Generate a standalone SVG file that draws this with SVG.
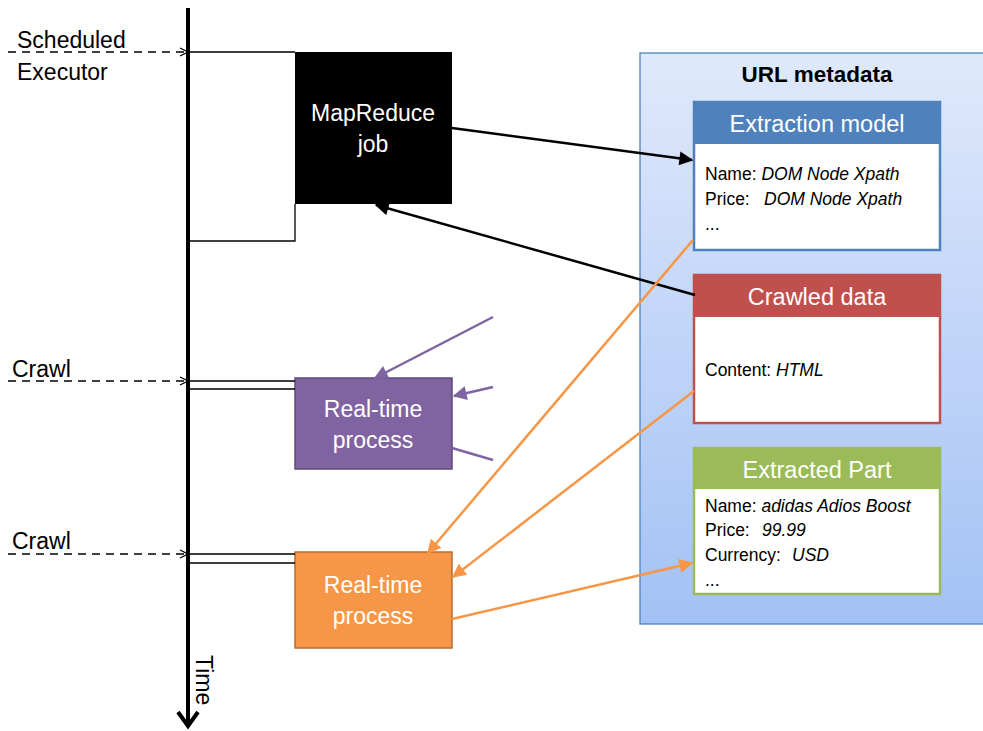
<svg xmlns="http://www.w3.org/2000/svg" width="983" height="731" viewBox="0 0 983 731">
  <defs>
    <linearGradient id="metaFill" x1="0" y1="0" x2="0" y2="1">
      <stop offset="0" stop-color="#dfe9fb"/>
      <stop offset="1" stop-color="#a3c1f5"/>
    </linearGradient>
    <marker id="openArrow" viewBox="0 0 10 10" refX="9" refY="5" markerWidth="10" markerHeight="10" markerUnits="userSpaceOnUse" orient="auto">
      <path d="M1,1 L9,5 L1,9" fill="none" stroke="#000" stroke-width="1.3"/>
    </marker>
    <marker id="blackHead" viewBox="0 0 10 10" refX="9" refY="5" markerWidth="16" markerHeight="14" markerUnits="userSpaceOnUse" orient="auto">
      <path d="M0,0 L10,5 L0,10 z" fill="#000"/>
    </marker>
    <marker id="purpleHead" viewBox="0 0 10 10" refX="9" refY="5" markerWidth="16" markerHeight="14" markerUnits="userSpaceOnUse" orient="auto">
      <path d="M0,0 L10,5 L0,10 z" fill="#8064a2"/>
    </marker>
    <marker id="orangeHead" viewBox="0 0 10 10" refX="9" refY="5" markerWidth="16" markerHeight="14" markerUnits="userSpaceOnUse" orient="auto">
      <path d="M0,0 L10,5 L0,10 z" fill="#f79646"/>
    </marker>
  </defs>
  <style>
    text { font-family: "Liberation Sans", Arial, sans-serif; }
    .lbl { font-size: 23px; fill: #000; }
    .boxlbl { font-size: 23px; fill: #fff; text-anchor: middle; }
    .hdr { font-size: 23.5px; fill: #fff; text-anchor: middle; }
    .body { font-size: 17.5px; fill: #000; }
    .it { font-style: italic; }
    .dash { stroke: #000; stroke-width: 1.3; stroke-dasharray: 8 6; fill: none; marker-end: url(#openArrow); }
    .thin { stroke: #000; stroke-width: 1.3; fill: none; }
  </style>
  <rect width="983" height="731" fill="#fff"/>

  <!-- time axis -->
  <g id="timeline">
    <line x1="188" y1="8" x2="188" y2="725" stroke="#000" stroke-width="4"/>
    <path d="M178,712 L188,726 L198,712" fill="none" stroke="#000" stroke-width="4"/>
    <text class="lbl" transform="translate(196,655) rotate(90)">Time</text>
  </g>

  <!-- triggers on the axis -->
  <g id="trigger-scheduled">
    <text class="lbl" x="17" y="48">Scheduled</text>
    <text class="lbl" x="17" y="80">Executor</text>
    <line class="dash" x1="8" y1="52" x2="188" y2="52"/>
  </g>
  <g id="trigger-crawl-1">
    <text class="lbl" x="12" y="377">Crawl</text>
    <line class="dash" x1="8" y1="381" x2="188" y2="381"/>
  </g>
  <g id="trigger-crawl-2">
    <text class="lbl" x="12" y="549">Crawl</text>
    <line class="dash" x1="8" y1="554" x2="188" y2="554"/>
  </g>

  <!-- URL metadata store -->
  <g id="url-metadata">
    <rect x="640" y="53" width="350" height="571" fill="url(#metaFill)" stroke="#4f81bd" stroke-width="1.3"/>
    <text x="817" y="82" font-size="22.5" font-weight="bold" text-anchor="middle">URL metadata</text>
  </g>

  <g id="extraction-model">
    <rect x="694" y="102" width="246" height="148" fill="#fff" stroke="#4f81bd" stroke-width="2.5"/>
    <rect x="694" y="102" width="246" height="42" fill="#4f81bd"/>
    <text class="hdr" x="817" y="132">Extraction model</text>
    <text class="body" x="705" y="180">Name: <tspan class="it">DOM Node Xpath</tspan></text>
    <text class="body" x="705" y="205">Price:   <tspan class="it" x="764">DOM Node Xpath</tspan></text>
    <text class="body" x="705" y="230">...</text>
  </g>

  <g id="crawled-data">
    <rect x="694" y="275" width="246" height="148" fill="#fff" stroke="#c0504d" stroke-width="2.5"/>
    <rect x="694" y="275" width="246" height="42" fill="#c0504d"/>
    <text class="hdr" x="817" y="305">Crawled data</text>
    <text class="body" x="705" y="376">Content: <tspan class="it">HTML</tspan></text>
  </g>

  <g id="extracted-part">
    <rect x="694" y="448" width="246" height="146" fill="#fff" stroke="#9bbb59" stroke-width="2.5"/>
    <rect x="694" y="448" width="246" height="41" fill="#9bbb59"/>
    <text class="hdr" x="817" y="478">Extracted Part</text>
    <text class="body" x="705" y="512">Name: <tspan class="it">adidas Adios Boost</tspan></text>
    <text class="body" x="705" y="536">Price:  <tspan class="it" x="762">99.99</tspan></text>
    <text class="body" x="705" y="561">Currency:  <tspan class="it" x="792">USD</tspan></text>
    <text class="body" x="705" y="586">...</text>
  </g>

  <!-- processes -->
  <g id="mapreduce-job">
    <rect x="295" y="52" width="157" height="152" fill="#000"/>
    <text class="boxlbl" x="373" y="121">MapReduce</text>
    <text class="boxlbl" x="373" y="152">job</text>
  </g>

  <g id="realtime-process-1">
    <rect x="295" y="378" width="157" height="91" fill="#8064a2" stroke="#5f497a" stroke-width="1.5"/>
    <text class="boxlbl" x="373" y="417">Real-time</text>
    <text class="boxlbl" x="373" y="448">process</text>
  </g>

  <g id="realtime-process-2">
    <rect x="295" y="552" width="157" height="96" fill="#f79646" stroke="#b66d31" stroke-width="1.5"/>
    <text class="boxlbl" x="373" y="593">Real-time</text>
    <text class="boxlbl" x="373" y="624">process</text>
  </g>

  <!-- connectors -->
  <g id="connectors">
    <!-- MapReduce span on the axis -->
    <path class="thin" d="M188,52 H295 M295,204 V241 H188"/>
    <!-- real-time spans on the axis -->
    <path class="thin" d="M188,381 H295 M188,389 H295"/>
    <path class="thin" d="M188,554 H295 M188,563 H295"/>

    <line x1="452" y1="128" x2="692" y2="160" stroke="#000" stroke-width="2.5" marker-end="url(#blackHead)"/>
    <line x1="695" y1="295" x2="376" y2="205" stroke="#000" stroke-width="2.5" marker-end="url(#blackHead)"/>

    <line x1="493" y1="317" x2="375" y2="378" stroke="#8064a2" stroke-width="2.5" marker-end="url(#purpleHead)"/>
    <line x1="493" y1="387" x2="454" y2="396" stroke="#8064a2" stroke-width="2.5" marker-end="url(#purpleHead)"/>
    <line x1="452" y1="448" x2="493" y2="460" stroke="#8064a2" stroke-width="2.5"/>

    <line x1="693" y1="240" x2="428" y2="553" stroke="#f79646" stroke-width="2.5" marker-end="url(#orangeHead)"/>
    <line x1="694" y1="391" x2="453" y2="577" stroke="#f79646" stroke-width="2.5" marker-end="url(#orangeHead)"/>
    <line x1="452" y1="619" x2="692" y2="563" stroke="#f79646" stroke-width="2.5" marker-end="url(#orangeHead)"/>
  </g>
</svg>
